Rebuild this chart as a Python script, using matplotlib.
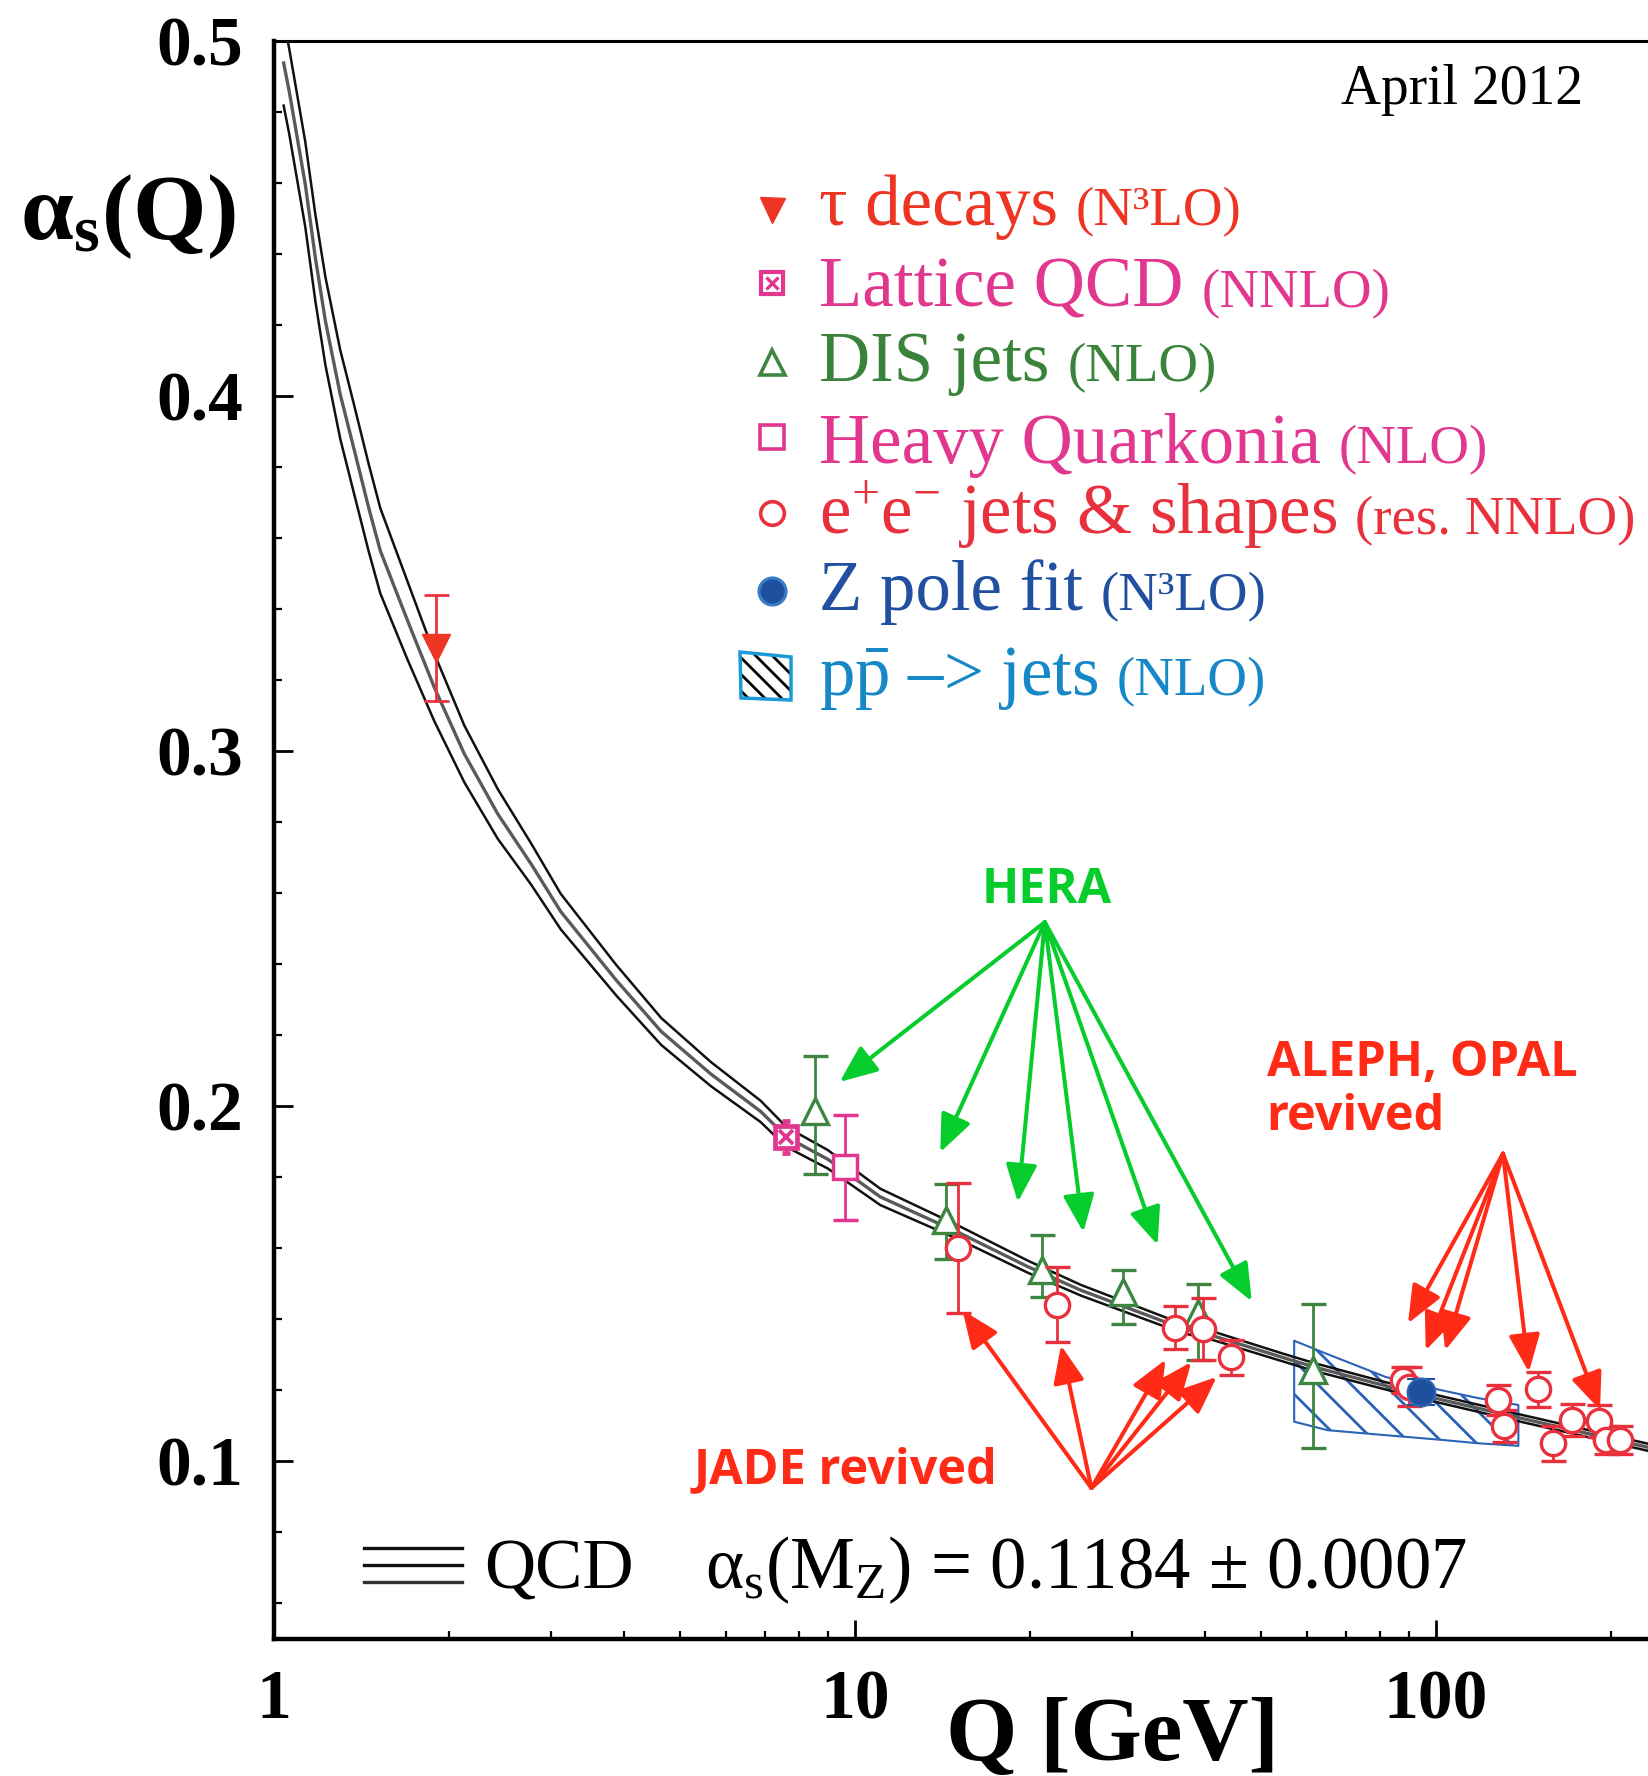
import numpy as np
import matplotlib
matplotlib.use('Agg')
import matplotlib.pyplot as plt
from matplotlib.lines import Line2D
from matplotlib.patches import Polygon
from matplotlib.ticker import LogLocator, MultipleLocator, NullFormatter

# ---------------- data ----------------
qcd_q = [1.039, 1.062, 1.132, 1.178, 1.226, 1.300, 1.371, 1.455, 1.524, 1.698,
         1.888, 2.126, 2.427, 2.770, 3.115, 3.880, 4.640, 5.650, 6.880, 7.620,
         8.980, 11.06, 15.20, 19.87, 24.50, 36.40, 41.50, 54.20, 61.70, 91.60,
         136.4, 233.0]
qcd_alpha = [0.4938, 0.4859, 0.4596, 0.4390, 0.4211, 0.4005, 0.3855, 0.3686, 0.3564, 0.3367,
             0.3179, 0.2992, 0.2823, 0.2682, 0.2548, 0.2355, 0.2210, 0.2090, 0.1985, 0.1913,
             0.1850, 0.1744, 0.1641, 0.1547, 0.1481, 0.1375, 0.1352, 0.1293, 0.1265, 0.1191,
             0.1125, 0.1038]
qcd_halfwidth = [0.0120, 0.0120, 0.0120, 0.0122, 0.0124, 0.0125, 0.0125, 0.0123, 0.0120, 0.0110,
                 0.0095, 0.0080, 0.0070, 0.0058, 0.0050, 0.0043, 0.0038, 0.0034, 0.0030, 0.0028,
                 0.0026, 0.0023, 0.0019, 0.0017, 0.0015, 0.0013, 0.0012, 0.0011, 0.0011, 0.0010,
                 0.0010, 0.0010]

tau_q = [1.90]
tau_alpha = [0.329]
tau_err = [0.015]

lattice_q = [7.62]
lattice_alpha = [0.1913]
lattice_err = [0.0045]

dis_q = [8.53, 14.37, 21.0, 28.9, 38.9, 61.5]
dis_alpha = [0.1985, 0.1678, 0.1538, 0.1477, 0.1416, 0.1256]
dis_err_lo = [0.0175, 0.0109, 0.0076, 0.0091, 0.0132, 0.0219]
dis_err_hi = [0.0156, 0.0102, 0.0098, 0.0061, 0.0082, 0.0186]

hq_q = [9.62]
hq_alpha = [0.1828]
hq_err = [0.0148]

ee_q = [15.06, 22.29, 35.48, 39.77, 44.46, 87.7, 89.8, 127.7, 130.9, 149.6,
        158.9, 171.5, 190.5, 196.4, 207.2]
ee_alpha = [0.1599, 0.1441, 0.1376, 0.1373, 0.1292, 0.1228, 0.1210, 0.1172, 0.1099, 0.1202,
            0.1050, 0.1117, 0.1113, 0.1059, 0.1059]
ee_err = [0.0183, 0.0105, 0.0060, 0.0087, 0.0050, 0.0037, 0.0055, 0.0043, 0.0045, 0.0050,
          0.0049, 0.0045, 0.0045, 0.0040, 0.0040]

zpole_q = [94.3]
zpole_alpha = [0.1195]
zpole_err = [0.0036]

pp_q = [57.0, 65.1, 81.9, 101.9, 118.5, 138.6]
pp_alpha_hi = [0.1339, 0.1301, 0.1237, 0.1200, 0.1177, 0.1158]
pp_alpha_lo = [0.1111, 0.1087, 0.1073, 0.1060, 0.1050, 0.1043]

# annotation arrows (data coords)
hera_label = (21.39, 0.2571)
hera_from = (21.22, 0.2518)
hera_to_q = [9.41, 14.02, 19.07, 24.72, 33.18, 48.18]
hera_to_a = [0.2068, 0.1870, 0.1730, 0.1645, 0.1609, 0.1450]

jade_label = (5.28, 0.0937)
jade_from = (25.52, 0.0924)
jade_to_q = [15.31, 22.62, 34.25, 37.92, 41.94]
jade_to_a = [0.1425, 0.1326, 0.1286, 0.1279, 0.1237]

aleph_label = (51.09, 0.2086, 0.1932)
aleph_from = (130.4, 0.1866)
aleph_to_q = [89.5, 96.0, 103.7, 144.5, 191.6]
aleph_to_a = [0.1388, 0.1312, 0.1312, 0.1251, 0.1144]

x_ticks = [1, 10, 100]
x_tick_labels = ['1', '10', '100']
y_ticks = [0.1, 0.2, 0.3, 0.4, 0.5]
y_tick_labels = ['0.1', '0.2', '0.3', '0.4', '0.5']

legend_entries = [
    ('τ decays', '(N³LO)', '#ee3524'),
    ('Lattice QCD', '(NNLO)', '#e2378e'),
    ('DIS jets', '(NLO)', '#3a833a'),
    ('Heavy Quarkonia', '(NLO)', '#e2378e'),
    ('e$^{+}$e$^{-}$ jets & shapes', '(res. NNLO)', '#e8313c'),
    ('Z pole fit', '(N³LO)', '#2150a0'),
    (r'p$\bar{\mathrm{p}}$ –> jets', '(NLO)', '#1688c8'),
]

# ---------------- style ----------------
plt.rcParams['font.family'] = ['Liberation Serif', 'DejaVu Serif']
plt.rcParams['mathtext.fontset'] = 'custom'
plt.rcParams['mathtext.rm'] = 'Liberation Serif'
plt.rcParams['mathtext.it'] = 'Liberation Serif:italic'
plt.rcParams['mathtext.bf'] = 'Liberation Serif:bold'
plt.rcParams['hatch.linewidth'] = 2.0

RED = '#e8313c'
TAU = '#ee3524'
MAG = '#e2378e'
GRN = '#3d8540'
BLU = '#1f4f9f'
PPB = '#2b64b6'
HERA_G = '#06cc2c'
ARR_R = '#ff2b17'

W, H = 1649, 1776
fig = plt.figure(figsize=(W / 100, H / 100), dpi=100)
X0, YT, YB = 274.0, 41.0, 1638.6
ax = fig.add_axes([X0 / W, 1 - YB / H, (W - X0) / W, (YB - YT) / H])
ax.set_xscale('log')
ax.set_xlim(1, 10 ** ((W - X0) / 581.0))
ax.set_ylim(0.05, 0.5)

for s in ['left', 'bottom']:
    ax.spines[s].set_linewidth(3.2)
ax.spines['top'].set_linewidth(2.2)
ax.spines['right'].set_visible(False)

ax.set_xticks(x_ticks, labels=x_tick_labels)
ax.xaxis.set_minor_locator(LogLocator(base=10, subs=np.arange(2, 10)))
ax.xaxis.set_minor_formatter(NullFormatter())
ax.set_yticks(y_ticks, labels=y_tick_labels)
ax.yaxis.set_minor_locator(MultipleLocator(0.02))
ax.tick_params(which='major', direction='in', length=14, width=2.0, pad=22,
               top=False, right=False, labelsize=50)
ax.tick_params(which='minor', direction='in', length=5.5, width=1.6,
               top=False, right=False)
for lab in ax.get_xticklabels() + ax.get_yticklabels():
    lab.set_fontweight('bold')

# ---------------- QCD band ----------------
qa = np.array(qcd_alpha)
hw = np.array(qcd_halfwidth)
ax.plot(qcd_q, qa + hw, color='#111111', lw=1.8, zorder=3)
ax.plot(qcd_q, qa - hw, color='#111111', lw=1.8, zorder=3)
ax.plot(qcd_q, qa, color='#5a5a5a', lw=2.4, zorder=3)

# ---------------- ppbar jets band ----------------
ax.fill_between(pp_q, pp_alpha_lo, pp_alpha_hi, facecolor='none', edgecolor=PPB,
                hatch='\\', linewidth=1.5, zorder=2)

# ---------------- data points ----------------
eb = dict(elinewidth=2.0, capthick=2.0, capsize=9, linestyle='none')
ax.errorbar(tau_q, tau_alpha, yerr=tau_err, fmt='v', ms=20, color=TAU, mec=TAU,
            ecolor='#ee3340', zorder=6, **eb)
ax.errorbar(dis_q, dis_alpha, yerr=[dis_err_lo, dis_err_hi], fmt='^', ms=18.5,
            mfc='white', mec=GRN, mew=2.4, ecolor=GRN, zorder=6, **eb)
ax.errorbar(hq_q, hq_alpha, yerr=hq_err, fmt='s', ms=17.5, mfc='white', mec=MAG,
            mew=2.5, ecolor=MAG, zorder=6, **eb)
ax.errorbar(lattice_q, lattice_alpha, yerr=lattice_err, fmt='s', ms=16, mfc='white',
            mec=MAG, mew=3.4, ecolor=MAG, elinewidth=2.0, capthick=2.0, capsize=3,
            linestyle='none', zorder=6)
ax.plot(lattice_q, lattice_alpha, 'x', ms=10, mew=2.7, color=MAG, zorder=7)
ax.errorbar(ee_q, ee_alpha, yerr=ee_err, fmt='o', ms=17.5, mfc='white', mec=RED,
            mew=2.4, ecolor=RED, zorder=7, **eb)
ax.errorbar(zpole_q, zpole_alpha, yerr=zpole_err, fmt='o', ms=20, color=BLU,
            mec='#2f66b3', mew=1.5, ecolor=BLU, elinewidth=2.5, capthick=3, capsize=10,
            linestyle='none', zorder=8)

# ---------------- annotations ----------------
def arrows(src, tq, ta, color):
    for q, a in zip(tq, ta):
        ax.annotate('', xy=(q, a), xytext=src,
                    arrowprops=dict(arrowstyle='-|>,head_length=1.15,head_width=0.48',
                                    color=color, lw=2.9, shrinkA=0, shrinkB=0,
                                    mutation_scale=20), zorder=9)

arrows(hera_from, hera_to_q, hera_to_a, HERA_G)
arrows(jade_from, jade_to_q, jade_to_a, ARR_R)
arrows(aleph_from, aleph_to_q, aleph_to_a, ARR_R)

lab_kw = dict(fontsize=35, fontweight='bold', family=['Open Sans', 'DejaVu Sans'],
              va='baseline', zorder=10)
ax.text(hera_label[0], hera_label[1], 'HERA', color=HERA_G, ha='center', **lab_kw)
ax.text(jade_label[0], jade_label[1], 'JADE revived', color=ARR_R, ha='left', **lab_kw)
ax.text(aleph_label[0], aleph_label[1], 'ALEPH, OPAL', color=ARR_R, ha='left', **lab_kw)
ax.text(aleph_label[0], aleph_label[2], 'revived', color=ARR_R, ha='left', **lab_kw)

# ---------------- figure-level texts ----------------
def fx(x):
    return x / W

def fy(y):
    return 1 - y / H

fig.text(fx(1583), fy(104), 'April 2012', ha='right', va='baseline', fontsize=40)
fig.text(fx(20), fy(239), r'α$_{\mathbf{s}}$(Q)', ha='left', va='baseline',
         fontsize=68, fontweight='bold')
fig.text(fx(1113), fy(1760), 'Q [GeV]', ha='center', va='baseline', fontsize=66,
         fontweight='bold')

# legend
renderer = fig.canvas.get_renderer()
row_marker_y = [210, 283, 362, 437, 513, 591, 669]
row_base_y = [225, 307, 381, 463, 534, 610, 695]
for (main, paren, col), yb in zip(legend_entries, row_base_y):
    t = fig.text(fx(819), fy(yb), main, color=col, fontsize=51, ha='left', va='baseline')
    bb = t.get_window_extent(renderer)
    fig.text((bb.x1 + 18) / W, fy(yb), paren, color=col, fontsize=39.5, ha='left',
             va='baseline')

mx = fx(772)
fig.add_artist(Line2D([mx], [fy(row_marker_y[0])], marker='v', ms=18, color=TAU,
                      linestyle='none', transform=fig.transFigure))
fig.add_artist(Line2D([mx], [fy(row_marker_y[1])], marker='s', ms=15.5, mfc='white',
                      mec=MAG, mew=3.0, linestyle='none', transform=fig.transFigure))
fig.add_artist(Line2D([mx], [fy(row_marker_y[1])], marker='x', ms=9, mew=2.4,
                      color=MAG, linestyle='none', transform=fig.transFigure))
fig.add_artist(Line2D([mx], [fy(row_marker_y[2])], marker='^', ms=18, mfc='white',
                      mec=GRN, mew=2.6, linestyle='none', transform=fig.transFigure))
fig.add_artist(Line2D([mx], [fy(row_marker_y[3])], marker='s', ms=17, mfc='white',
                      mec=MAG, mew=2.6, linestyle='none', transform=fig.transFigure))
fig.add_artist(Line2D([mx], [fy(row_marker_y[4])], marker='o', ms=17, mfc='white',
                      mec=RED, mew=2.6, linestyle='none', transform=fig.transFigure))
fig.add_artist(Line2D([mx], [fy(row_marker_y[5])], marker='o', ms=19.5, mfc=BLU,
                      mec='#3a7cc8', mew=2.2, linestyle='none', transform=fig.transFigure))
quad = [(fx(740), fy(652)), (fx(791), fy(657)), (fx(791), fy(700)), (fx(741), fy(698))]
fig.add_artist(Polygon(quad, closed=True, facecolor='white', edgecolor='black',
                       hatch='\\\\', linewidth=0, transform=fig.transFigure))
fig.add_artist(Polygon(quad, closed=True, facecolor='none', edgecolor='#1a9ad6',
                       linewidth=2.5, transform=fig.transFigure))

# QCD legend at bottom
for yy, cc in zip([1548, 1565, 1582], ['#111111', '#111111', '#333333']):
    fig.add_artist(Line2D([fx(364), fx(462)], [fy(yy), fy(yy)], color=cc, lw=2.4,
                          transform=fig.transFigure))
fig.text(fx(484), fy(1588), 'QCD', fontsize=51, ha='left', va='baseline')
fig.text(fx(705), fy(1588), 'α$_{\\mathrm{s}}$(M$_{\\mathrm{Z}}$) = 0.1184 ± 0.0007',
         fontsize=52.5, ha='left', va='baseline')

fig.savefig('out.png', dpi=100)
